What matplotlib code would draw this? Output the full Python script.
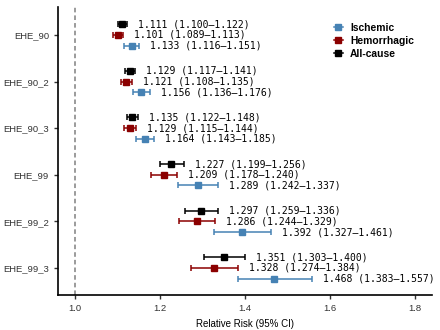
import numpy as np
import matplotlib.pyplot as plt
from matplotlib.lines import Line2D

plt.rcParams['font.family'] = ['Liberation Sans', 'DejaVu Sans']

definitions = ["EHE_90", "EHE_90_2", "EHE_90_3", "EHE_99", "EHE_99_2", "EHE_99_3"]

allcause_rr = [1.111, 1.129, 1.135, 1.227, 1.297, 1.351]
allcause_lo = [1.100, 1.117, 1.122, 1.199, 1.259, 1.303]
allcause_hi = [1.122, 1.141, 1.148, 1.256, 1.336, 1.400]

hemorrhagic_rr = [1.101, 1.121, 1.129, 1.209, 1.286, 1.328]
hemorrhagic_lo = [1.089, 1.108, 1.115, 1.178, 1.244, 1.274]
hemorrhagic_hi = [1.113, 1.135, 1.144, 1.240, 1.329, 1.384]

ischemic_rr = [1.133, 1.156, 1.164, 1.289, 1.392, 1.468]
ischemic_lo = [1.116, 1.136, 1.143, 1.242, 1.327, 1.383]
ischemic_hi = [1.151, 1.176, 1.185, 1.337, 1.461, 1.557]

series = [
    ("All-cause", "black", -0.23, allcause_rr, allcause_lo, allcause_hi),
    ("Hemorrhagic", "#8B0000", 0.0, hemorrhagic_rr, hemorrhagic_lo, hemorrhagic_hi),
    ("Ischemic", "#4682B4", 0.23, ischemic_rr, ischemic_lo, ischemic_hi),
]

fig = plt.figure(figsize=(4.4, 3.3), dpi=100)
ax = fig.add_axes([58/440, 35/330, 374/440, 288/330])

y = np.arange(len(definitions))
ax.axvline(1.0, color="grey", linestyle=(0, (3, 2)), linewidth=1.1, zorder=0)

for name, col, off, rr, lo, hi in series:
    rr = np.array(rr); lo = np.array(lo); hi = np.array(hi)
    yy = y + off
    ax.errorbar(rr, yy, xerr=[rr - lo, hi - rr], fmt="s", color=col,
                markersize=4.3, elinewidth=1.1, capsize=2, capthick=1.1)
    for r, l, h, yv in zip(rr, lo, hi, yy):
        ax.annotate(f"{r:.3f} ({l:.3f}\u2013{h:.3f})", xy=(h, yv),
                    xytext=(8, 0), textcoords="offset points",
                    va="center", ha="left", fontsize=7,
                    family="DejaVu Sans Mono", color="black")

ax.set_yticks(y)
ax.set_yticklabels(definitions)
ax.set_ylim(len(definitions) - 1 + 0.58, -0.6)
ax.set_xlim(0.96, 1.84)
ax.set_xticks([1.0, 1.2, 1.4, 1.6, 1.8])
ax.set_xlabel("Relative Risk (95% CI)", fontsize=7)
ax.tick_params(labelsize=6.8, width=1, length=3, colors="#333333")
ax.tick_params(labelcolor="#333333")
for s in ["top", "right"]:
    ax.spines[s].set_visible(False)
for s in ["left", "bottom"]:
    ax.spines[s].set_linewidth(1.2)

handles = [Line2D([0], [0], color=c, marker="s", markersize=4, linewidth=1.1)
           for c in ["#4682B4", "#8B0000", "black"]]
leg = ax.legend(handles, ["Ischemic", "Hemorrhagic", "All-cause"],
                loc="upper left", bbox_to_anchor=(0.712, 0.978), frameon=False,
                handlelength=0.9, handletextpad=0.7, labelspacing=0.3,
                prop={"weight": "bold", "size": 7.4})

fig.savefig("out.png", dpi=100)
